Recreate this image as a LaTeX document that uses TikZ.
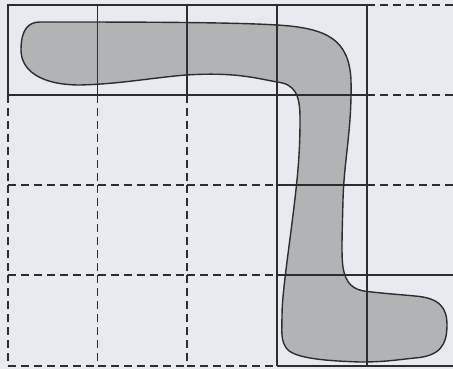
\documentclass[tikz,border=0pt]{standalone}
\definecolor{bg}{RGB}{233,234,239}
\definecolor{blob}{RGB}{178,179,181}
\definecolor{ink}{RGB}{45,45,48}
\tikzset{
  gridsolid/.style={draw=ink, line width=1.3pt},
  griddash/.style={draw=ink, line width=1.3pt, dash pattern=on 8pt off 5pt},
  blobline/.style={draw=ink, line width=1.4pt, line join=round}
}
\begin{document}
\begin{tikzpicture}[x=1pt,y=-1pt]
\useasboundingbox (0,0) rectangle (453,369);
\fill[bg] (0,0) rectangle (453,369);
\def\blobpath{(40,22) .. controls (120,22) and (230,22) .. (277,25)
  .. controls (328,28) and (349,40) .. (351,80)
  .. controls (352,130) and (344,160) .. (343,200)
  .. controls (342,240) and (341,262) .. (344,272)
  .. controls (348,288) and (358,291) .. (372,292)
  .. controls (390,294) and (405,295) .. (415,296)
  .. controls (440,298) and (447,308) .. (447,325)
  .. controls (447,345) and (440,356) .. (415,358)
  .. controls (395,360) and (385,362) .. (360,362)
  .. controls (330,361) and (298,359) .. (288,350)
  .. controls (280,342) and (282,330) .. (282,315)
  .. controls (282,290) and (292,230) .. (297,180)
  .. controls (300,150) and (300,130) .. (300,118)
  .. controls (300,95) and (295,84) .. (277,82)
  .. controls (255,78) and (235,72) .. (186,75)
  .. controls (150,78) and (120,84) .. (80,85)
  .. controls (40,85) and (21,70) .. (21,50)
  .. controls (21,30) and (28,22) .. (40,22) -- cycle}
% shape fill (outline drawn later)
\fill[blob] \blobpath;
% dashed grid edges
\foreach \xa/\xb in {8/97.5,97.5/187,187/277}{
  \foreach \yy in {185,275,366}{
    \draw[griddash] (\xa,\yy) -- (\xb,\yy);
  }
}
\foreach \yy in {5,95,185}{
  \draw[griddash] (367,\yy) -- (453,\yy);
}
\foreach \xx in {8,97.5,187}{
  \foreach \ya/\yb in {95/185,185/275,275/366}{
    \draw[griddash] (\xx,\ya) -- (\xx,\yb);
  }
}
% solid grid edges
\draw[gridsolid] (8,5) rectangle (367,95);
\draw[gridsolid] (97.5,5) -- (97.5,95) (187,5) -- (187,95);
\draw[gridsolid] (277,5) -- (277,366) (367,5) -- (367,366);
\draw[gridsolid] (277,185) -- (367,185);
\draw[gridsolid] (277,275) -- (453,275) (277,366) -- (453,366);
% shape outline
\draw[blobline] \blobpath;
\end{tikzpicture}
\end{document}
